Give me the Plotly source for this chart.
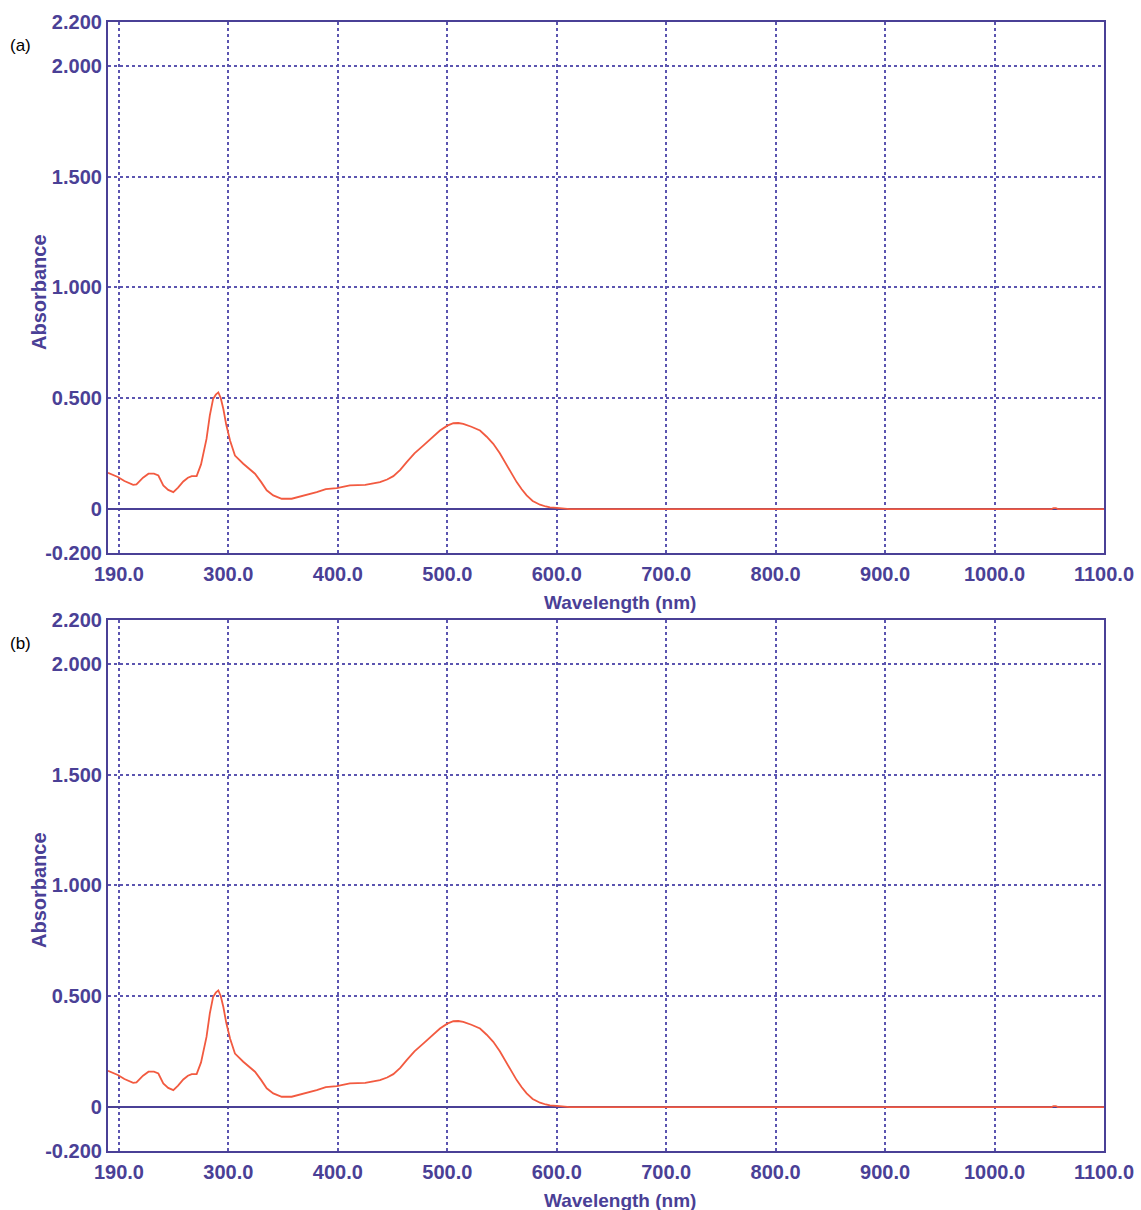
import plotly.graph_objects as go

# Spectrum; identical in both panels
wavelength = [190, 199, 205, 213, 216, 222, 227, 232, 236, 240.5, 245, 249.7, 254, 258.8, 263, 266.5, 271,
              275, 280, 283, 286, 288.5, 290.8, 293, 295.4, 298, 301.5, 306, 313.6, 318, 324.3, 330, 335,
              341, 348.7, 357.8, 370, 380.7, 389, 399, 411, 425, 438.5, 445, 450.7, 457, 462.9, 470, 478,
              486, 493.3, 500, 505.5, 510, 514.6, 522, 529.9, 536, 542, 548, 554.3, 559, 563.4, 568, 572.5,
              578, 584.7, 590, 593.8, 600, 612, 700, 800, 900, 1000, 1052, 1054, 1056, 1058, 1100]
absorbance = [0.162, 0.143, 0.125, 0.108, 0.11, 0.14, 0.158, 0.158, 0.15, 0.105, 0.085, 0.075, 0.095, 0.123,
              0.14, 0.147, 0.147, 0.2, 0.315, 0.42, 0.495, 0.515, 0.525, 0.5, 0.45, 0.38, 0.308, 0.24, 0.203,
              0.185, 0.158, 0.12, 0.083, 0.06, 0.045, 0.045, 0.06, 0.075, 0.088, 0.093, 0.105, 0.108, 0.12,
              0.132, 0.147, 0.175, 0.21, 0.25, 0.285, 0.32, 0.353, 0.375, 0.386, 0.387, 0.383, 0.37, 0.353,
              0.325, 0.293, 0.25, 0.195, 0.155, 0.12, 0.088, 0.06, 0.035, 0.018, 0.01, 0.006, 0.004, -0.002,
              -0.002, -0.002, -0.002, -0.002, -0.002, 0.003, 0.003, -0.002, -0.002]

panel_labels = ["(a)", "(b)"]
x_tickvals = [200, 300, 400, 500, 600, 700, 800, 900, 1000, 1100]
x_ticktext = ["190.0", "300.0", "400.0", "500.0", "600.0", "700.0", "800.0", "900.0", "1000.0", "1100.0"]
y_tickvals = [-0.2, 0, 0.5, 1.0, 1.5, 2.0, 2.2]
y_ticktext = ["-0.200", "0", "0.500", "1.000", "1.500", "2.000", "2.200"]

W, H = 1141, 1210
PURPLE = "#4a4096"
GRID = "#5b55b0"
RED = "#f25a40"
FONT = "Liberation Sans, Arial, sans-serif"

x_dom = [108 / W, 1104 / W]
y_doms = [[1 - 553 / H, 1 - 21.5 / H], [1 - 1151 / H, 1 - 619.5 / H]]

fig = go.Figure()
annotations = []
for i in range(2):
    sfx = "" if i == 0 else str(i + 1)
    fig.add_trace(go.Scatter(x=wavelength, y=absorbance, mode="lines",
                             line=dict(color=RED, width=1.8),
                             xaxis="x" + sfx, yaxis="y" + sfx, showlegend=False))
    axis_common = dict(showline=True, linecolor=PURPLE, linewidth=2.2, mirror=True,
                       showgrid=True, gridcolor=GRID, gridwidth=1.6, griddash="3px,3px",
                       ticks="", tickfont=dict(family=FONT, size=20, color=PURPLE, weight="bold"))
    fig.update_layout(**{
        "xaxis" + sfx: dict(domain=x_dom, range=[190, 1100], tickmode="array",
                            tickvals=x_tickvals, ticktext=x_ticktext, zeroline=False,
                            anchor="y" + sfx, ticklabelstandoff=2, **axis_common),
        "yaxis" + sfx: dict(domain=y_doms[i], range=[-0.2, 2.2], tickmode="array",
                            tickvals=y_tickvals, ticktext=y_ticktext, zeroline=True,
                            zerolinecolor=PURPLE, zerolinewidth=1.6,
                            anchor="x" + sfx, ticklabelstandoff=0, **axis_common),
    })
    top_px = 21.5 + 598 * i
    annotations.append(dict(text=panel_labels[i], x=8 / W, y=1 - (top_px + 24) / H,
                            xref="paper", yref="paper", xanchor="left", yanchor="middle",
                            showarrow=False, font=dict(family=FONT, size=17, color="black")))
    annotations.append(dict(text="<b>Absorbance</b>", x=39 / W, y=1 - (292 + 598 * i) / H,
                            xref="paper", yref="paper", xanchor="center", yanchor="middle",
                            textangle=-90, showarrow=False,
                            font=dict(family=FONT, size=20, color=PURPLE)))
    annotations.append(dict(text="<b>Wavelength (nm)</b>", x=620 / W, y=1 - (602 + 598 * i) / H,
                            xref="paper", yref="paper", xanchor="center", yanchor="middle",
                            showarrow=False, font=dict(family=FONT, size=19, color=PURPLE)))

fig.update_layout(width=W, height=H, margin=dict(l=0, r=0, t=0, b=0, autoexpand=False),
                  paper_bgcolor="white", plot_bgcolor="white", annotations=annotations)

fig.write_html("out.html", config={"displayModeBar": False},
               post_script="document.body.style.margin='0';document.body.style.overflow='hidden';")
